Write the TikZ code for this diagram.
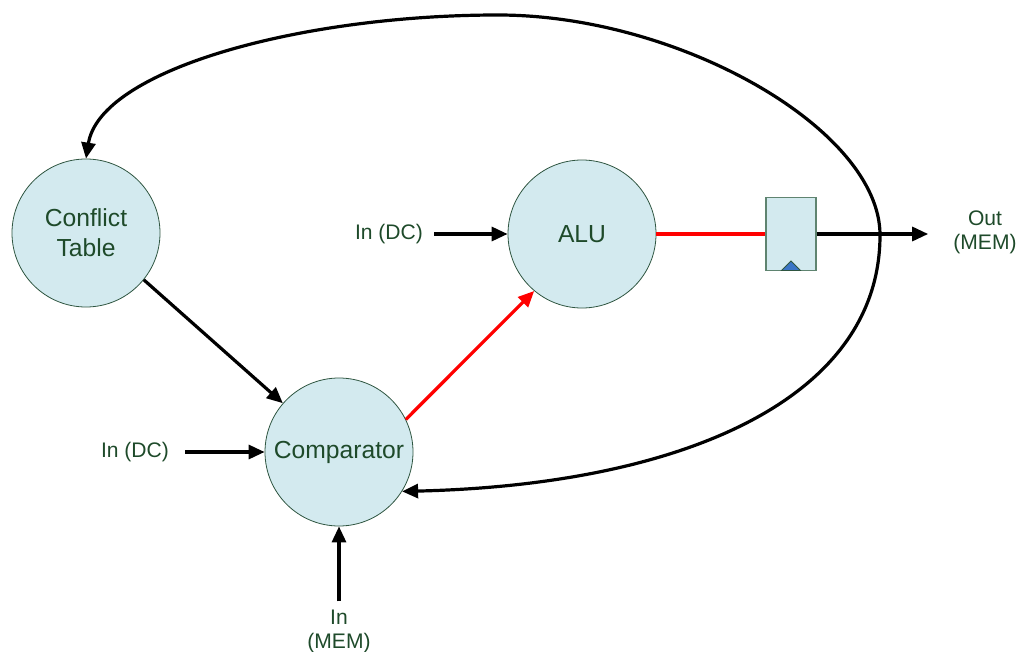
\documentclass[tikz,border=0pt]{standalone}
\usepackage{fontspec}
\setmainfont{Liberation Sans}
\usetikzlibrary{arrows.meta}
\definecolor{unitfill}{HTML}{D3EAEF}
\definecolor{unitline}{HTML}{2E5540}
\definecolor{labeltext}{HTML}{1E4A2A}
\definecolor{regline}{HTML}{5F8470}
\definecolor{clockfill}{HTML}{3B75C6}
\definecolor{hotpath}{HTML}{FF0000}
\begin{document}
\begin{tikzpicture}[x=0.75pt,y=-0.75pt,
  unit/.style={circle,draw=unitline,line width=0.6pt,fill=unitfill,
    minimum size=111pt,inner sep=0pt,align=center,text=labeltext,
    font=\fontsize{18.5}{22.5}\selectfont},
  iolabel/.style={align=center,text=labeltext,inner sep=0pt,
    font=\fontsize{15.8}{18}\selectfont},
  regbox/.style={rectangle,draw=regline,line width=0.8pt,fill=unitfill,
    minimum width=37.5pt,minimum height=54.75pt,inner sep=0pt},
  tip/.style={Triangle[length=12pt,width=10.5pt]},
  wire/.style={line width=2.4pt,-{Triangle[length=12pt,width=10.5pt]}},
  redwire/.style={line width=2.4pt,draw=hotpath}]
\useasboundingbox (0,0) rectangle (1019,652);

% functional units
\node[unit] (ct)  at (86,233)  {Conflict\\Table};
\node[unit] (alu) at (582,234) {ALU};
\node[unit] (cmp) at (339,452) {Comparator};

% output register with clock mark
\node[regbox] (reg) at (791,234) {};
\coordinate (clkl) at (781.5,270.5);
\coordinate (clkr) at (800.5,270.5);
\coordinate (clkt) at (791,261);
\filldraw[fill=clockfill,draw=unitline,line width=0.6pt] (clkl) -- (clkt) -- (clkr) -- cycle;

% external inputs and output
\node[iolabel] (inalu) at (389,234) {In (DC)};
\node[iolabel] (incmp) at (135,452) {In (DC)};
\node[iolabel] (inmem) at (339,631) {In\\(MEM)};
\node[iolabel] (out)   at (985,232) {Out\\(MEM)};

\draw[wire,shorten <=11pt*0.75] (inalu.east) -- (alu.west);
\draw[wire,shorten <=16pt*0.75] (incmp.east) -- (cmp.west);
\draw[wire,shorten <=8pt*0.75] (inmem.north) -- (cmp.south);
\draw[wire] (ct.-39) -- (cmp.139);

% data path
\draw[redwire,-{Triangle[length=12pt,width=10.5pt]}] (cmp.26) -- (alu.-130);
\draw[redwire] (alu.east) -- (reg.west);
\draw[wire,shorten >=25pt*0.75] (reg.east) -- (out.west |- reg.east);

% feedback loop back to the conflict table and the comparator
\coordinate (farside) at (880,235);
\coordinate (apex) at (498,15);
\draw[line width=2.4pt,{Triangle[length=12pt,width=10.5pt]}-{Triangle[length=12pt,width=10.5pt]}]
  (cmp.-32) .. controls (680,485) and (880,400) .. (farside)
  .. controls (880,130) and (680,15) .. (apex)
  .. controls (300,15) and (100,70) .. (ct.north);
\end{tikzpicture}
\end{document}
